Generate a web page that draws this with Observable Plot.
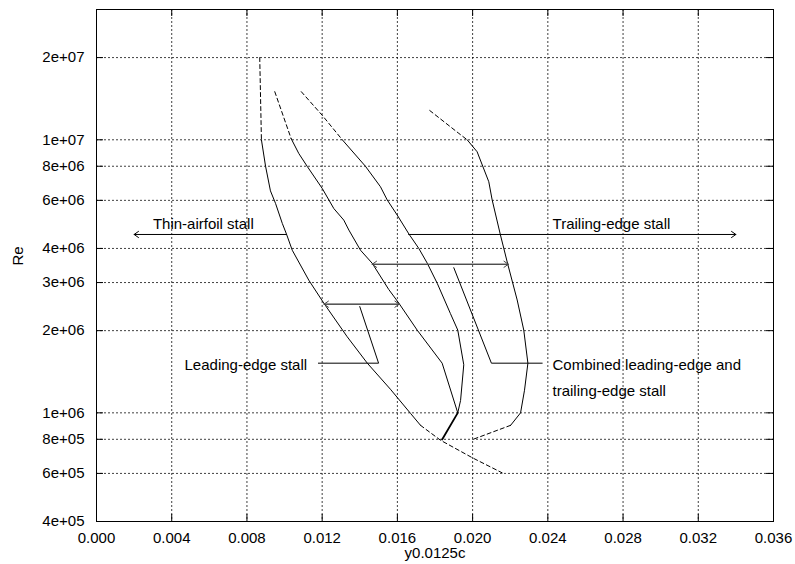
<!DOCTYPE html>
<html>
<head>
<meta charset="utf-8">
<script src="https://cdn.jsdelivr.net/npm/d3@7"></script>
<script src="https://cdn.jsdelivr.net/npm/@observablehq/plot@0.6"></script>
<style>
  body { margin: 0; background: #fff; }
  #chart svg { display: block; }
</style>
</head>
<body>
<div id="chart"></div>
<script>
// ---- axis ticks ----
const xTicks = [0, 0.004, 0.008, 0.012, 0.016, 0.020, 0.024, 0.028, 0.032, 0.036];
const yTicks = [4e5, 6e5, 8e5, 1e6, 2e6, 3e6, 4e6, 6e6, 8e6, 1e7, 2e7];

// ---- boundary curves: [y_0.0125c, Re] ----
const curve1Top = [[0.00868, 2.0e7], [0.00877, 1.0e7]];
const curve1 = [[0.00877, 1.0e7], [0.00899, 8.0e6], [0.00925, 6.5e6], [0.00952, 5.85e6], [0.00988, 4.94e6],
  [0.0101, 4.52e6], [0.01041, 3.94e6], [0.01129, 3.06e6], [0.01209, 2.52e6], [0.01333, 1.9e6],
  [0.0144, 1.52e6], [0.01563, 1.22e6], [0.0167, 9.95e5], [0.01723, 9.0e5]];
const curve1Bottom = [[0.01723, 9.0e5], [0.01829, 7.94e5], [0.01998, 6.85e5], [0.02157, 6.03e5]];

const curve2Top = [[0.00948, 1.5e7], [0.01035, 1.01e7]];
const curve2 = [[0.01035, 1.01e7], [0.01076, 8.9e6], [0.0112, 8.0e6], [0.0120, 6.64e6], [0.01262, 5.6e6],
  [0.01315, 5.08e6], [0.01342, 4.67e6], [0.01404, 3.94e6], [0.01466, 3.53e6], [0.01554, 2.83e6],
  [0.01608, 2.52e6], [0.01705, 2.01e6], [0.01838, 1.52e6], [0.01921, 1.0e6]];

const curve3Top = [[0.01089, 1.5e7], [0.0120, 1.23e7], [0.01307, 1.0e7]];
const curve3 = [[0.01307, 1.0e7], [0.0143, 8.0e6], [0.0151, 6.73e6], [0.01546, 6.02e6], [0.01599, 5.3e6],
  [0.01661, 4.52e6], [0.01714, 4.0e6], [0.01759, 3.53e6], [0.01812, 2.98e6], [0.01882, 2.31e6],
  [0.01921, 2.01e6], [0.01953, 1.5e6], [0.01936, 1.11e6], [0.01921, 1.0e6]];

const mergedSegment = [[0.01921, 1.0e6], [0.01838, 7.99e5]];

const curve4Top = [[0.01772, 1.28e7], [0.01927, 1.055e7], [0.01971, 1.0e7]];
const curve4 = [[0.01971, 1.0e7], [0.02024, 9.04e6], [0.02086, 7.02e6], [0.02104, 6.02e6], [0.02148, 4.48e6],
  [0.02187, 3.5e6], [0.02237, 2.59e6], [0.02272, 2.01e6], [0.02294, 1.52e6], [0.02276, 1.21e6],
  [0.02255, 1.0e6], [0.02202, 9.0e5]];
const curve4Bottom = [[0.02202, 9.0e5], [0.02003, 8.0e5]];

// leader lines for labels
const leaderCombined = [[0.0190, 3.4e6], [0.0210, 1.52e6], [0.0237, 1.52e6]];
const leaderLeading = [[0.0140, 2.45e6], [0.0150, 1.52e6], [0.0118, 1.52e6]];

// arrows: from, to, Re
const singleArrows = [
  {from: 0.0101, to: 0.0020, re: 4.5e6},
  {from: 0.0166, to: 0.0340, re: 4.5e6}
];
const doubleArrows = [
  {from: 0.01466, to: 0.0219, re: 3.5e6},
  {from: 0.0121, to: 0.0161, re: 2.5e6}
];

// labels
const labelText = ["Thin-airfoil stall", "Trailing-edge stall", "Leading-edge stall", "Combined leading-edge and", "trailing-edge stall"];
const labelX = [0.0030, 0.02425, 0.0112, 0.02425, 0.02425];
const labelRe = [4.9e6, 4.9e6, 1.5e6, 1.5e6, 1.2e6];
const labelAnchor = ["start", "start", "end", "start", "start"];
const labels = labelText.map((t, i) => ({text: t, x: labelX[i], re: labelRe[i], anchor: labelAnchor[i]}));

const xTitleMain = "y";
const xTitleSub = "0.0125c";
const yTitle = "Re";

const solidCurves = [curve1, curve2, curve3, curve4, leaderCombined, leaderLeading];
const dashedCurves = [curve1Top, curve1Bottom, curve2Top, curve3Top, curve4Top, curve4Bottom];

function gnuExp(d) {
  const [m, e] = d.toExponential(0).split("e");
  const sign = e[0];
  const digits = e.slice(1).padStart(2, "0");
  return m + "e" + sign + digits;
}

const W = 795, H = 564;
const mL = 96, mR = 22, mT = 9, mB = 43;
const innerW = W - mL - mR, innerH = H - mT - mB;
const tickLen = 7;
const gridStyle = {stroke: "#000", strokeOpacity: 0.75, strokeDasharray: "2,2", strokeWidth: 1};
const arrowStyle = {headLength: 8, headAngle: 70, strokeWidth: 1};

const marks = [
  Plot.gridX(xTicks, gridStyle),
  Plot.gridY(yTicks, gridStyle),
  Plot.tickX(xTicks, {x: d => d, insetTop: innerH - tickLen, stroke: "#000"}),
  Plot.tickX(xTicks, {x: d => d, insetBottom: innerH - tickLen, stroke: "#000"}),
  Plot.tickY(yTicks, {y: d => d, insetRight: innerW - tickLen, stroke: "#000"}),
  Plot.tickY(yTicks, {y: d => d, insetLeft: innerW - tickLen, stroke: "#000"}),
  Plot.axisX(xTicks, {tickSize: 0, tickPadding: 11, tickFormat: d3.format(".3f"), label: null, fontSize: 15, fill: "#000"}),
  Plot.axisY(yTicks, {tickSize: 0, tickPadding: 12, tickFormat: gnuExp, label: null, fontSize: 15, fill: "#000"}),
  ...solidCurves.map(c => Plot.line(c, {x: d => d[0], y: d => d[1], stroke: "#000", strokeWidth: 1})),
  ...dashedCurves.map(c => Plot.line(c, {x: d => d[0], y: d => d[1], stroke: "#000", strokeWidth: 1, strokeDasharray: "4,3"})),
  Plot.line(mergedSegment, {x: d => d[0], y: d => d[1], stroke: "#000", strokeWidth: 1.8}),
  Plot.arrow(singleArrows, {x1: "from", x2: "to", y1: "re", y2: "re", stroke: "#000", ...arrowStyle}),
  Plot.arrow(doubleArrows, {x1: "from", x2: "to", y1: "re", y2: "re", stroke: "#444", ...arrowStyle}),
  Plot.arrow(doubleArrows, {x1: "to", x2: "from", y1: "re", y2: "re", stroke: "#444", ...arrowStyle}),
  Plot.text(labels.filter(d => d.anchor === "start"), {x: "x", y: "re", text: "text", textAnchor: "start", fontSize: 15, fill: "#000"}),
  Plot.text(labels.filter(d => d.anchor === "end"), {x: "x", y: "re", text: "text", textAnchor: "end", fontSize: 15, fill: "#000"}),
  Plot.text([yTitle], {frameAnchor: "left", dx: -78, rotate: -90, fontSize: 15, fill: "#000"}),
  Plot.text([xTitleMain + xTitleSub], {frameAnchor: "bottom", dy: 36, textAnchor: "middle", fontSize: 15, fill: "#000", ariaLabel: "x-title"}),
  Plot.frame({stroke: "#000", strokeWidth: 1})
];

const chart = Plot.plot({
  width: W,
  height: H,
  marginLeft: mL,
  marginRight: mR,
  marginTop: mT,
  marginBottom: mB,
  style: {fontFamily: "'Liberation Sans', Arial, Helvetica, sans-serif", fontSize: "15px", background: "#fff", color: "#000"},
  x: {type: "linear", domain: [0, 0.036]},
  y: {type: "log", domain: [4e5, 3e7]},
  marks
});

// render the x-axis title with a lowered subscript
const t = d3.select(chart).select('g[aria-label="x-title"] text');
if (!t.empty()) {
  t.text(null);
  t.append("tspan").text(xTitleMain);
  t.append("tspan").attr("dy", 4).attr("font-size", 14).text(xTitleSub);
}
document.getElementById("chart").appendChild(chart);
</script>
</body>
</html>
